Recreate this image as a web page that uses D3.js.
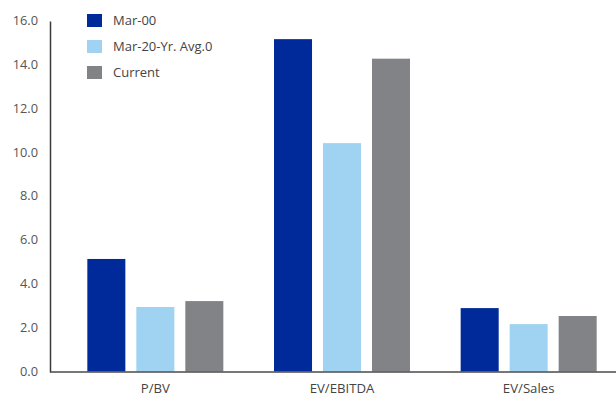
<!DOCTYPE html>
<html><head><meta charset="utf-8">
<script src="https://cdn.jsdelivr.net/npm/d3@7"></script>
<style>body{margin:0;background:#fff}svg{display:block}text{font-family:"Open Sans",sans-serif}</style>
</head><body><svg id="c" width="616" height="401"></svg>
<script>
const categories = ["P/BV", "EV/EBITDA", "EV/Sales"];
const seriesNames = ["Mar-00", "Mar-20-Yr. Avg.0", "Current"];
const mar00 = [5.13, 15.15, 2.89];
const avg20 = [2.94, 10.41, 2.16];
const current = [3.21, 14.26, 2.53];
const yTicks = [0, 2, 4, 6, 8, 10, 12, 14, 16];
const colors = ["#002a9a", "#9fd3f1", "#828387"];

const seriesValues = [mar00, avg20, current];
const svg = d3.select("#c");
const y = d3.scaleLinear().domain([0, 16]).range([371.5, 20.5]);
const x0 = d3.scaleBand().domain(categories).range([62, 622]).padding(0);
const x1 = d3.scaleBand().domain(seriesNames).range([0, x0.bandwidth()]).paddingInner(0.224).paddingOuter(0.517);

const g = svg.append("g");
categories.forEach((c, ci) => {
  seriesNames.forEach((s, si) => {
    const v = seriesValues[si][ci];
    g.append("rect")
      .attr("x", x0(c) + x1(s))
      .attr("y", y(v))
      .attr("width", x1.bandwidth())
      .attr("height", y(0) - y(v))
      .attr("fill", colors[si]);
  });
});

// Y axis
svg.append("line").attr("x1", 50.5).attr("x2", 50.5).attr("y1", y(16) + 1).attr("y2", y(0) + 1)
  .attr("stroke", "#3a3a3a").attr("stroke-width", 1.5);
svg.append("g").selectAll("text").data(yTicks).join("text")
  .attr("x", 38).attr("y", d => y(d)).attr("dy", "0.35em")
  .attr("text-anchor", "end").attr("font-size", 12.8).attr("fill", "#555")
  .text(d => d3.format(".1f")(d));

// X axis
svg.append("line").attr("x1", 50).attr("x2", 616).attr("y1", y(0) + 0.5).attr("y2", y(0) + 0.5)
  .attr("stroke", "#4a4a4a").attr("stroke-width", 1.5);
svg.append("g").selectAll("text").data(categories).join("text")
  .attr("x", d => x0(d) + x1("Mar-20-Yr. Avg.0") + x1.bandwidth() / 2)
  .attr("y", 393).attr("text-anchor", "middle").attr("font-size", 13.2).attr("fill", "#444")
  .text(d => d);

// Legend
const lg = svg.append("g");
seriesNames.forEach((s, i) => {
  lg.append("rect").attr("x", 87).attr("y", 14 + i * 26).attr("width", 15).attr("height", 13).attr("fill", colors[i]);
  lg.append("text").attr("x", 113).attr("y", 20.5 + i * 26).attr("dy", "0.35em")
    .attr("font-size", 13).attr("fill", "#444").text(s);
});
</script></body></html>
